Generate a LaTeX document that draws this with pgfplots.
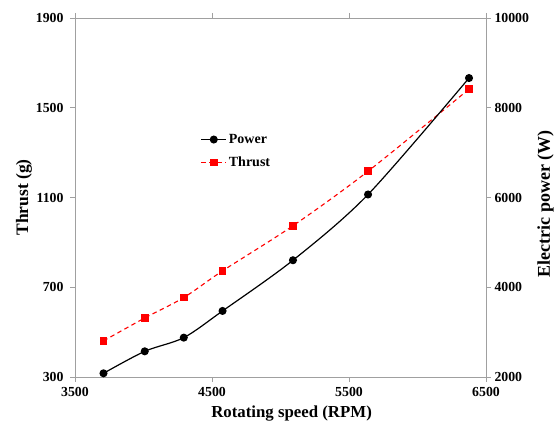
\documentclass[border=0pt]{standalone}
\usepackage{fontspec}
\setmainfont{Liberation Serif}
\usepackage{pgfplots}
\pgfplotsset{compat=1.18}

\definecolor{axisgray}{RGB}{160,160,160}

\pgfplotsset{
  common/.style={
    width=411pt, height=359pt,
    scale only axis,
    at={(0,0)}, anchor=south west,
    xmin=3500, xmax=6500,
    xtick={3500,4500,5500,6500},
    axis line style={axisgray, line width=0.8pt},
    tick style={axisgray, line width=0.8pt},
    tick align=outside,
    major tick length=5pt,
    tick label style={font=\fontsize{13.8}{15}\selectfont\bfseries},
    label style={font=\fontsize{17.5}{19}\selectfont\bfseries},
    /pgf/number format/assume math mode=true,
    /pgf/number format/1000 sep={},
    scaled y ticks=false,
    clip=false,
  },
  thrust/.style={red, dash pattern=on 4.5pt off 3.5pt, line width=1.1pt,
    mark=square*, mark size=3.3pt, mark options={solid, fill=red, draw=red}},
  power/.style={black, line width=1.2pt,
    mark=*, mark size=3.4pt, mark options={fill=black}},
}

\begin{document}
\begin{tikzpicture}
\useasboundingbox (-75pt,-45.3pt) rectangle (482pt,377pt);
\begin{axis}[
  common,
  axis y line*=left,
  axis x line*=box,
  ymin=300, ymax=1900,
  ytick={300,700,1100,1500,1900},
  yticklabel style={xshift=-3pt},
  xticklabel style={yshift=-2pt},
  ylabel={Thrust (g)},
  xlabel={Rotating speed (RPM)},
  xlabel style={at={(axis description cs:0.527,-0.101)}, anchor=center,
    font=\fontsize{16.8}{18}\selectfont\bfseries},
  ylabel style={at={(axis description cs:-0.124,0.5)}, anchor=center},
]
\addplot[thrust, smooth]
  coordinates {
  (3708,461) (4009,563) (4294,654) (4577,773) (5091,974) (5639,1217) (6376,1583)
};
\end{axis}
\begin{axis}[
  common,
  axis y line*=right,
  axis x line=none,
  ymin=2000, ymax=10000,
  ytick={2000,4000,6000,8000,10000},
  ylabel={Electric power (W)},
  ylabel style={at={(axis description cs:1.145,0.483)}, anchor=center,
    font=\fontsize{18}{20}\selectfont\bfseries},
  legend style={draw=none, fill=none, at={(0.298,0.688)}, anchor=north west,
    font=\fontsize{14}{16}\selectfont\bfseries, row sep=8pt,
    /tikz/every even column/.append style={column sep=1pt}},
  legend cell align=left,
  legend image code/.code={
    \draw[mark repeat=2, mark phase=2, #1]
      plot coordinates {(0pt,0pt) (12.5pt,0pt) (25pt,0pt)};
  },
]
\addplot[power, smooth]
  coordinates {
  (3708,2082) (4009,2572) (4294,2877) (4577,3472) (5091,4602) (5639,6067) (6376,8662)
};
\addlegendentry{Power}
\addlegendimage{thrust}
\addlegendentry{Thrust}
\end{axis}
\end{tikzpicture}
\end{document}
